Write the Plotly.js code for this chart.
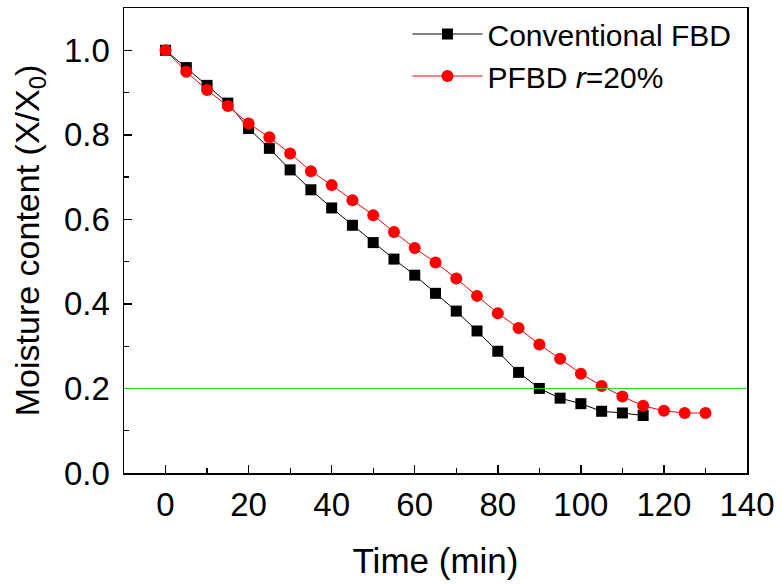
<!DOCTYPE html>
<html>
<head>
<meta charset="utf-8">
<script src="https://cdn.plot.ly/plotly-3.0.1.min.js"></script>
<style>html,body{margin:0;padding:0;background:#fff;}#chart{width:782px;height:584px;}</style>
</head>
<body>
<div id="chart"></div>
<script>
const timeConv = [0,5,10,15,20,25,30,35,40,45,50,55,60,65,70,75,80,85,90,95,100,105,110,115];
const moistConv = [1.0,0.959,0.917,0.875,0.815,0.768,0.717,0.670,0.627,0.586,0.545,0.506,0.468,0.425,0.383,0.336,0.288,0.238,0.200,0.177,0.164,0.146,0.142,0.136];
const timePfbd = [0,5,10,15,20,25,30,35,40,45,50,55,60,65,70,75,80,85,90,95,100,105,110,115,120,125,130];
const moistPfbd = [1.0,0.949,0.906,0.868,0.827,0.794,0.756,0.714,0.681,0.645,0.610,0.570,0.532,0.498,0.460,0.419,0.378,0.343,0.304,0.270,0.235,0.206,0.181,0.159,0.147,0.142,0.142];
const seriesNames = ["Conventional FBD", "PFBD <i>r</i>=20%"];
const thresholdY = 0.2;

const FONT = "Arial, 'Liberation Sans', sans-serif";

const traces = [
  {x: timeConv, y: moistConv, name: seriesNames[0], mode: 'lines+markers',
   line: {color: '#000000', width: 1},
   marker: {symbol: 'square', size: 11, color: '#000000'}},
  {x: timePfbd, y: moistPfbd, name: seriesNames[1], mode: 'lines+markers',
   line: {color: '#ff0000', width: 1},
   marker: {symbol: 'circle', size: 12, color: '#ff0000'}}
];

const layout = {
  width: 782, height: 584,
  margin: {l: 124, r: 35, t: 8, b: 111},
  paper_bgcolor: '#fff', plot_bgcolor: '#fff',
  font: {family: FONT, color: '#000'},
  showlegend: true,
  legend: {x: 0.455, xanchor: 'left', y: 1, yanchor: 'top',
           bgcolor: 'rgba(0,0,0,0)', font: {family: FONT, size: 30, color: '#000'},
           itemwidth: 70, tracegroupgap: 0},
  xaxis: {
    range: [-10, 140], dtick: 20, tick0: 0,
    showgrid: false, zeroline: false,
    showline: true, linecolor: '#000', linewidth: 1.5, mirror: true,
    ticks: 'inside', ticklen: 8, tickwidth: 1.5, tickcolor: '#000',
    minor: {dtick: 10, ticks: 'inside', ticklen: 5, tickwidth: 1.2, tickcolor: '#000'},
    tickfont: {family: FONT, size: 33, color: '#000'},
    ticklabelstandoff: 2,
    title: {text: 'Time (min)', font: {family: FONT, size: 35, color: '#000'}, standoff: 26}
  },
  yaxis: {
    range: [0, 1.1], dtick: 0.2, tick0: 0, tickformat: '.1f',
    showgrid: false, zeroline: false,
    showline: true, linecolor: '#000', linewidth: 1.5, mirror: true,
    ticks: 'inside', ticklen: 8, tickwidth: 1.5, tickcolor: '#000',
    minor: {dtick: 0.1, ticks: 'inside', ticklen: 5, tickwidth: 1.2, tickcolor: '#000'},
    tickfont: {family: FONT, size: 33, color: '#000'},
    ticklabelstandoff: 6,
    title: {text: 'Moisture content (X/X<sub>0</sub>)', font: {family: FONT, size: 34, color: '#000'}, standoff: 14}
  },
  shapes: [{type: 'line', xref: 'paper', x0: 0, x1: 1, yref: 'y', y0: thresholdY, y1: thresholdY,
            line: {color: '#22dd22', width: 1}}]
};

Plotly.newPlot('chart', traces, layout, {displayModeBar: false, staticPlot: true});
</script>
</body>
</html>
